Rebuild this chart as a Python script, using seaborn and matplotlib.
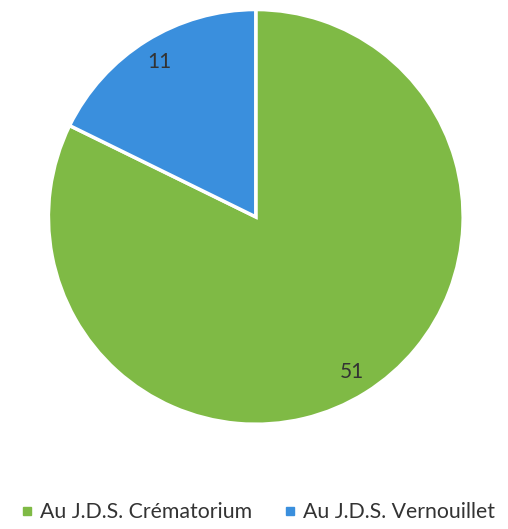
import matplotlib
matplotlib.use("Agg")
import matplotlib.pyplot as plt
from matplotlib.lines import Line2D
import seaborn as sns

categories = ["Au J.D.S. Crématorium", "Au J.D.S. Vernouillet"]
values = [51, 11]
colors = ["#7FBA45", "#3A8FDD"]

sns.set_theme(style="white")
plt.rcParams['font.family'] = ['Lato', 'DejaVu Sans']

fig = plt.figure(figsize=(5.08, 5.29), dpi=100)
ax = fig.add_axes([0.0945, 0.198, 0.818, 0.784])
wedges, texts = ax.pie(values, colors=colors, startangle=90, counterclock=False,
                       labels=[str(v) for v in values], labeldistance=0.88,
                       wedgeprops=dict(edgecolor="white", linewidth=2.5),
                       textprops=dict(color="#333333", fontsize=15))
for t in texts:
    t.set_horizontalalignment("center")
    t.set_verticalalignment("center")
ax.set_xlim(-1, 1)
ax.set_ylim(-1, 1)
ax.set_aspect("equal")
ax.axis("off")

handles = [Line2D([0], [0], marker="s", linestyle="", markersize=6,
                  markerfacecolor=c, markeredgecolor=c) for c in colors]
fig.legend(handles, categories, loc="center", bbox_to_anchor=(0.507, 1 - 512 / 529),
           ncol=2, frameon=False, fontsize=15.3, handletextpad=0.3,
           columnspacing=1.5, handlelength=0.6, labelcolor="#333333",
           borderpad=0, borderaxespad=0)

fig.savefig("out.png", dpi=100)
